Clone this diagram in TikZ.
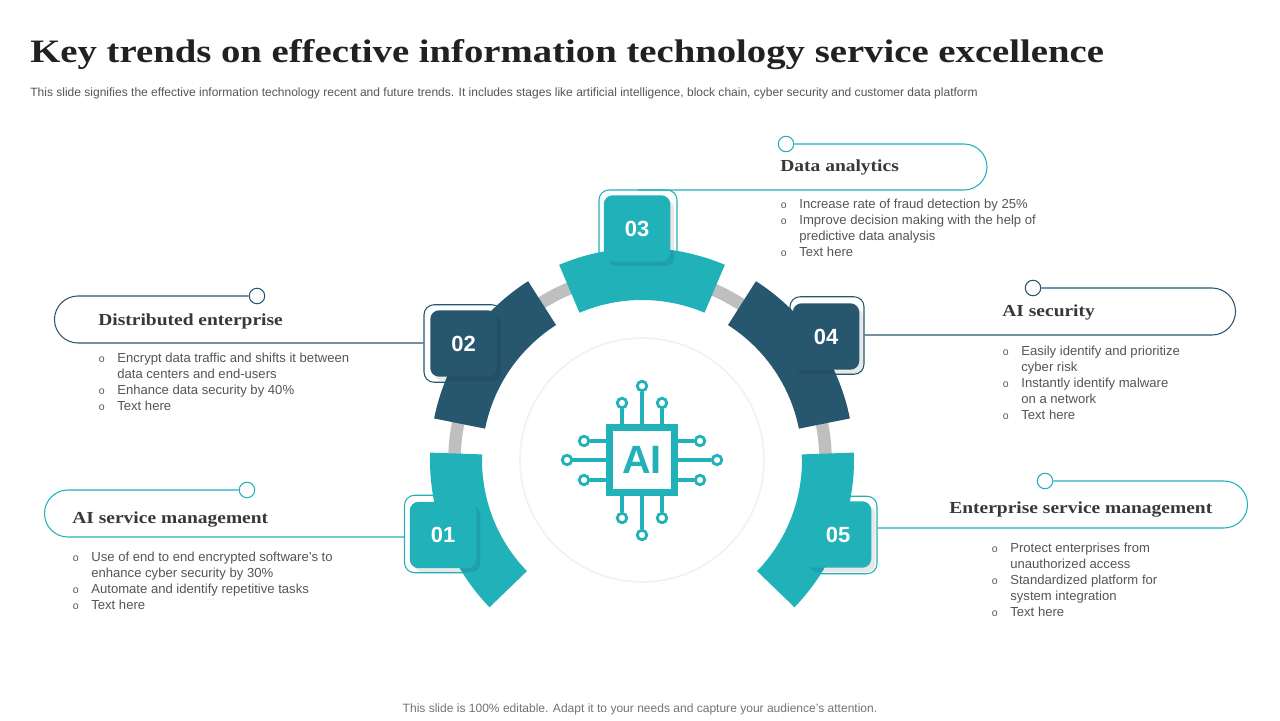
\documentclass[tikz,border=0pt]{standalone}
\usepackage{fontspec}
\setmainfont{Liberation Sans}
\newfontfamily\headfont{Liberation Serif}[FakeStretch=1.155]
\newfontfamily\titlefont{Liberation Serif}[FakeStretch=1.185]
\usetikzlibrary{calc}

\definecolor{tealc}{HTML}{21B1B9}
\definecolor{navyc}{HTML}{27566F}
\definecolor{ringc}{HTML}{BFBFBF}
\definecolor{textc}{HTML}{555555}

\newcommand{\bul}{\makebox[0pt][r]{\fontsize{6}{9}\selectfont o\hspace{7.2pt}}}

\tikzset{
	framebox/.style={draw=#1, fill=white, rounded corners=0.2cm, minimum width=1.56cm, minimum height=1.55cm, inner sep=0pt, line width=0.6pt},
	badge/.style={fill=#1, rounded corners=0.18cm, minimum size=1.33cm, inner sep=0pt, text=white, font=\fontsize{12.5}{12.5}\selectfont\bfseries},
	badgeshadow/.style={fill=black, opacity=0.09, rounded corners=0.18cm, minimum size=1.33cm, inner sep=0pt},
	dotnode/.style={circle, draw=#1, fill=white, minimum size=0.31cm, inner sep=0pt, line width=0.6pt},
	callout/.style={draw=#1, line width=0.6pt},
	heading/.style={anchor=west, inner sep=0pt, text=black!78, font=\headfont\fontsize{9.6}{12}\selectfont\bfseries},
	listbox/.style={anchor=north west, inner sep=0pt, align=left, text=textc, font=\fontsize{7.45}{9.1}\selectfont},
	pinnode/.style={circle, draw=tealc, fill=white, line width=1.6pt, minimum size=0.19cm, inner sep=0pt},
	pinline/.style={draw=tealc, line width=1.8pt},
}

\begin{document}
\begin{tikzpicture}[x=0.02cm, y=0.02cm]

	\def \rout{212};
	\def \rin{160};
	\def \rring{185.5};

	\useasboundingbox (0,0) rectangle (1280,720);
	\coordinate (ctr) at (642,260);
	\coordinate (ringctr) at (640,260);

	% title and the two grey lines
	\node[anchor=west, inner sep=0pt, text=black!87, font=\titlefont\fontsize{18.6}{20}\selectfont\bfseries] (title) at (30,665.5) {Key trends on effective information technology service excellence};
	\node[anchor=west, inner sep=0pt, text=textc, font=\fontsize{6.84}{8}\selectfont] (subtitle) at (30,627) {This slide signifies the effective information technology recent and future trends. It includes stages like artificial intelligence, block chain, cyber security and customer data platform};
	\node[inner sep=0pt, text=black!55, font=\fontsize{6.85}{8}\selectfont] (footer) at (640,11) {This slide is 100\% editable. Adapt it to your needs and capture your audience's attention.};

	% frames and callouts
	\node[framebox=tealc] (frame1) at (443.5,186) {};
	\node[framebox=navyc] (frame2) at (463,376.5) {};
	\node[framebox=tealc] (frame3) at (638,491.25) {};
	\node[framebox=navyc, minimum width=1.48cm] (frame4) at (827,384.5) {};
	\node[framebox=tealc] (frame5) at (838,185) {};

	\node[dotnode=tealc] (dot1) at (247,230) {};
	\node[dotnode=navyc] (dot2) at (257,424) {};
	\node[dotnode=tealc] (dot3) at (786,576) {};
	\node[dotnode=navyc] (dot4) at (1033,432) {};
	\node[dotnode=tealc] (dot5) at (1045,239) {};

	\draw[callout=tealc] (dot1) -- (68,230) arc[start angle=90, end angle=270, radius=23.5] coordinate (end1) -- (end1 -| frame1.west);
	\draw[callout=navyc] (dot2) -- (78,424) arc[start angle=90, end angle=270, radius=23.5] coordinate (end2) -- (end2 -| frame2.west);
	\draw[callout=tealc] (dot3) -- (964,576) arc[start angle=90, end angle=-90, radius=23] coordinate (end3) -- (end3 -| frame3.north);
	\draw[callout=navyc] (dot4) -- (1212,432) arc[start angle=90, end angle=-90, radius=23.5] coordinate (end4) -- (end4 -| frame4.east);
	\draw[callout=tealc] (dot5) -- (1224,239) arc[start angle=90, end angle=-90, radius=23.5] coordinate (end5) -- (end5 -| frame5.east);

	% ring
	\draw[draw=ringc, line width=0.25cm] ($(ringctr)+(0:\rring)$) arc[start angle=0, end angle=180, radius=\rring];

	\fill[tealc] ($(ctr)+(178:\rout)$) arc[start angle=178, end angle=224, radius=\rout] -- ($(ctr)+(224:\rin)$) arc[start angle=224, end angle=178, radius=\rin] -- cycle;
	\fill[navyc] ($(ctr)+(122.5:\rout)$) arc[start angle=122.5, end angle=168.7, radius=\rout] -- ($(ctr)+(168.7:\rin)$) arc[start angle=168.7, end angle=122.5, radius=\rin] -- cycle;
	\fill[tealc] ($(ctr)+(67:\rout)$) arc[start angle=67, end angle=113, radius=\rout] -- ($(ctr)+(113:\rin)$) arc[start angle=113, end angle=67, radius=\rin] -- cycle;
	\fill[navyc] ($(ctr)+(11.3:\rout)$) arc[start angle=11.3, end angle=57.5, radius=\rout] -- ($(ctr)+(57.5:\rin)$) arc[start angle=57.5, end angle=11.3, radius=\rin] -- cycle;
	\fill[tealc] ($(ctr)+(-44:\rout)$) arc[start angle=-44, end angle=2, radius=\rout] -- ($(ctr)+(2:\rin)$) arc[start angle=2, end angle=-44, radius=\rin] -- cycle;

	% badges
	\node[badgeshadow] (shadow1) at (447,181) {};
	\node[badgeshadow] (shadow2) at (467.5,372) {};
	\node[badgeshadow] (shadow3) at (641,487) {};
	\node[badgeshadow] (shadow4) at (830,379) {};
	\node[badgeshadow] (shadow5) at (842,181) {};

	\node[badge=tealc] (badge1) at (443,185) {01};
	\node[badge=navyc] (badge2) at (463.5,376.5) {02};
	\node[badge=tealc] (badge3) at (637,491.5) {03};
	\node[badge=navyc] (badge4) at (826,383.5) {04};
	\node[badge=tealc] (badge5) at (838,185.5) {05};

	% centre disc and chip
	\node[circle, draw=black!5, fill=white, line width=1pt, minimum size=4.88cm, inner sep=0pt] (disc) at (ctr) {};
	\node[draw=tealc, fill=white, line width=0.13cm, minimum size=1.3cm, inner sep=0pt, text=tealc, font=\fontsize{22.5}{22.5}\selectfont\bfseries] (chip) at (ctr) {AI};

	\foreach \n/\px/\py/\side in {1/642/334/north, 2/622/317/north, 3/662/317/north, 4/642/185/south, 5/622/202/south, 6/662/202/south}
	{
		\node[pinnode] (pin\n) at (\px,\py) {};
		\draw[pinline] (pin\n) -- (pin\n |- chip.\side);
	}
	\foreach \n/\px/\py/\side in {7/567/260/west, 8/584/279/west, 9/584/240/west, 10/717/260/east, 11/700/279/east, 12/700/240/east}
	{
		\node[pinnode] (pin\n) at (\px,\py) {};
		\draw[pinline] (pin\n) -- (pin\n -| chip.\side);
	}

	% text
	\node[heading] (head1) at (72,200) {AI service management};
	\node[listbox] (list1) at (91,168.5) {\bul Use of end to end encrypted software's to\\enhance cyber security by 30\%\\\bul Automate and identify repetitive tasks\\\bul Text here};

	\node[heading] (head2) at (98,399) {Distributed enterprise};
	\node[listbox] (list2) at (117,367.5) {\bul Encrypt data traffic and shifts it between\\data centers and end-users\\\bul Enhance data security by 40\%\\\bul Text here};

	\node[heading] (head3) at (780,553) {Data analytics};
	\node[listbox] (list3) at (799,521) {\bul Increase rate of fraud detection by 25\%\\\bul Improve decision making with the help of\\predictive data analysis\\\bul Text here};

	\node[heading] (head4) at (1002,408) {AI security};
	\node[listbox] (list4) at (1021,374.5) {\bul Easily identify and prioritize\\cyber risk\\\bul Instantly identify malware\\on a network\\\bul Text here};

	\node[heading] (head5) at (949,210) {Enterprise service management};
	\node[listbox] (list5) at (1010,177.5) {\bul Protect enterprises from\\unauthorized access\\\bul Standardized platform for\\system integration\\\bul Text here};

\end{tikzpicture}
\end{document}
